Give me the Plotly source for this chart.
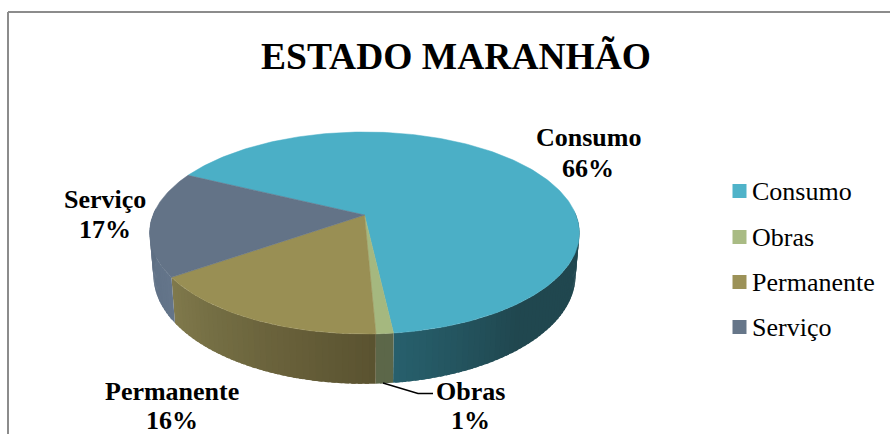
import math
import plotly.graph_objects as go

# ---------- data ----------
categories = ["Consumo", "Obras", "Permanente", "Serviço"]
slice_values = [66.0, 1.1, 16.0, 16.9]
percent_labels = ["66%", "1%", "16%", "17%"]
title_text = "ESTADO MARANHÃO"

# ---------- styles ----------
top_colors = ["#4bafc6", "#a5b87f", "#998f54", "#637387"]
legend_colors = ["#4fb3c9", "#a9bb84", "#9c9258", "#667689"]
wall_start = ["#20474f", "#5c6749", "#5a5230", "#64758a"]   # at the slice's clockwise-start end
wall_end = ["#27606d", "#5c6749", "#807a4c", "#596a7d"]
SERIF = "Liberation Serif"
W, H = 890, 434

# ---------- pie projection (tilted disc seen in perspective) ----------
CX, CY = 364.5, 215.0
RX, RY, PERSP = 211.5, 97.8, -0.178
DEPTH, BOTTOM_SCALE = 41.0, 0.982
START = 115.9  # degrees clockwise on screen from the front of the disc


def project(phi, bottom=False):
    a = math.radians(phi)
    s, c = math.cos(a), -math.sin(a)
    d = 1 + PERSP * s
    x = RX * c / d
    y = RY * s / d
    if bottom:
        return CX + x * BOTTOM_SCALE, CY + y + DEPTH / d
    return CX + x, CY + y


def hex_rgb(h):
    return tuple(int(h[i:i + 2], 16) for i in (1, 3, 5))


def lerp(c1, c2, t):
    a, b = hex_rgb(c1), hex_rgb(c2)
    return "rgb(%d,%d,%d)" % tuple(round(a[i] + (b[i] - a[i]) * t) for i in range(3))


total = sum(slice_values)
spans = []
angle = START
for v in slice_values:
    sweep = v / total * 360
    spans.append((angle, angle + sweep))
    angle += sweep

fig = go.Figure()

# side wall, painted slice by slice; neighbours overlap so no seams show
for i, (a0, a1) in enumerate(spans):
    n = max(2, int((a1 - a0) / 1.5))
    for j in range(n):
        p0 = a0 + (a1 - a0) * j / n
        p1 = a0 + (a1 - a0) * (j + 1) / n
        mid = (p0 + p1) / 2
        if math.cos(math.radians(mid)) < -0.05:
            continue
        if i == 0:   # dark along the right, lifting near the front edge
            t = max(0.0, 1 - (a1 - mid) / 32)
        else:
            t = (mid - a0) / (a1 - a0)
        col = lerp(wall_start[i], wall_end[i], t)
        q1 = min(a1, p1 + 1.0)
        pts = [project(p0), project(q1), project(q1, True), project(p0, True)]
        xs = [p[0] for p in pts] + [pts[0][0]]
        ys = [p[1] for p in pts] + [pts[0][1]]
        fig.add_trace(go.Scatter(x=xs, y=ys, mode="lines", fill="toself", fillcolor=col,
                                 line=dict(width=0), hoverinfo="skip", showlegend=False))

# top faces
for i, (a0, a1) in enumerate(spans):
    n = max(4, int((a1 - a0) / 1.0))
    pts = [project(a0 + (a1 - a0) * j / n) for j in range(n + 1)]
    xs = [CX] + [p[0] for p in pts] + [CX]
    ys = [CY] + [p[1] for p in pts] + [CY]
    fig.add_trace(go.Scatter(x=xs, y=ys, mode="lines", fill="toself", fillcolor=top_colors[i],
                             line=dict(color=top_colors[i], width=0.5), name=categories[i],
                             hoverinfo="name", showlegend=False))

# leader line for Obras
fig.add_trace(go.Scatter(x=[383, 418, 433], y=[383, 393.5, 393.5], mode="lines",
                         line=dict(color="black", width=1.5), hoverinfo="skip", showlegend=False))

# legend column
legend_x, legend_text_x = 739.5, 751
legend_ys = [191, 237, 282, 327]
for i, cat in enumerate(categories):
    fig.add_trace(go.Scatter(x=[legend_x], y=[legend_ys[i]], mode="markers",
                             marker=dict(symbol="square", size=14, color=legend_colors[i]),
                             name=cat, showlegend=False))
    fig.add_annotation(x=legend_text_x, y=legend_ys[i], text=cat, showarrow=False,
                       xanchor="left", yanchor="middle",
                       font=dict(family=SERIF, size=26, color="black"), borderpad=0)

# data labels, one line each so the line spacing can be set
label_pos = [(588, 137, 168), (470, 391, 420), (172, 391, 420), (105, 199, 229)]
label_font = dict(family=SERIF, size=26, color="black")
for i, cat in enumerate(categories):
    x, y1, y2 = label_pos[i]
    fig.add_annotation(x=x, y=y1, text=f"<b>{cat}</b>", showarrow=False,
                       xanchor="center", yanchor="middle", font=label_font)
    fig.add_annotation(x=x, y=y2, text=f"<b>{percent_labels[i]}</b>", showarrow=False,
                       xanchor="center", yanchor="middle", font=label_font)

# chart frame: only its top and left sides are inside the crop
frame = dict(type="line", xref="x", yref="y", line=dict(color="#8c8c8c", width=2))
fig.add_shape(x0=8, x1=890, y0=12, y1=12, **frame)
fig.add_shape(x0=8, x1=8, y0=12, y1=434, **frame)

fig.update_layout(
    width=W, height=H, margin=dict(l=0, r=0, t=0, b=0),
    paper_bgcolor="white", plot_bgcolor="white", showlegend=False,
    title=dict(text=f"<b>{title_text}</b>", x=456 / W, y=1 - 56 / H, xanchor="center",
               yanchor="middle", font=dict(family=SERIF, size=37.5, color="black")),
    xaxis=dict(range=[0, W], visible=False, fixedrange=True),
    yaxis=dict(range=[H, 0], visible=False, fixedrange=True),
)
fig.write_html("out.html", config=dict(displayModeBar=False),
               post_script="document.body.style.margin='0';document.body.style.overflow='hidden';")
